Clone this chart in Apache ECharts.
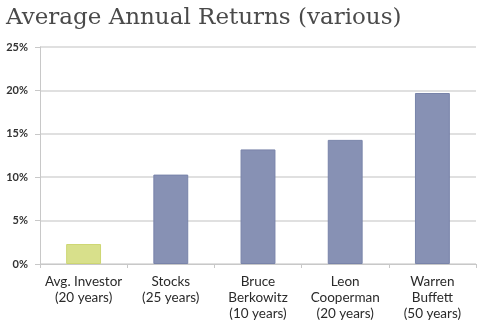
<!DOCTYPE html>
<html>
<head>
<meta charset="utf-8">
<script src="https://cdn.jsdelivr.net/npm/echarts@6/dist/echarts.min.js"></script>
<style>
  html, body { margin: 0; padding: 0; background: #fff; }
  #chart { width: 480px; height: 324px; }
</style>
</head>
<body>
<div id="chart"></div>
<script>
// Investor / manager categories along the x axis
const categories = [
  'Avg. Investor\n(20 years)',
  'Stocks\n(25 years)',
  'Bruce\nBerkowitz\n(10 years)',
  'Leon\nCooperman\n(20 years)',
  'Warren\nBuffett\n(50 years)'
];
// Average annual return, percent
const returns = [2.3, 10.3, 13.2, 14.3, 19.7];
// Percent ticks on the value axis
const yTicks = [0, 5, 10, 15, 20, 25];

const barColors = ['#d8e08b', '#8791b4', '#8791b4', '#8791b4', '#8791b4'];
const barBorders = ['#cdd672', '#7883a9', '#7883a9', '#7883a9', '#7883a9'];

const chart = echarts.init(document.getElementById('chart'), null, { renderer: 'canvas' });
chart.setOption({
  animation: false,
  backgroundColor: '#ffffff',
  title: {
    text: 'Average Annual Returns (various)',
    left: 1,
    top: 2,
    textStyle: {
      fontFamily: 'DejaVu Serif',
      fontWeight: 'normal',
      fontSize: 23,
      color: '#4a4a4a'
    }
  },
  grid: { left: 40, right: 4, top: 47, bottom: 60, containLabel: false, outerBoundsMode: 'none' },
  xAxis: {
    type: 'category',
    data: categories,
    axisLine: { lineStyle: { color: '#c8c8c8', width: 1 } },
    axisTick: { show: true, alignWithLabel: false, length: 4, lineStyle: { color: '#c8c8c8' } },
    axisLabel: {
      interval: 0,
      margin: 10,
      fontFamily: 'Lato',
      fontSize: 13.5,
      lineHeight: 16,
      color: '#2a2a2a'
    }
  },
  yAxis: {
    type: 'value',
    min: yTicks[0],
    max: yTicks[yTicks.length - 1],
    interval: yTicks[1] - yTicks[0],
    axisLine: { show: true, lineStyle: { color: '#c8c8c8', width: 1 } },
    axisTick: { show: true, length: 5, lineStyle: { color: '#c8c8c8' } },
    splitLine: { lineStyle: { color: '#d6d6d6', width: 1.5 } },
    axisLabel: {
      margin: 12,
      fontFamily: 'Lato',
      fontWeight: 'bold',
      fontSize: 11,
      color: '#333333',
      formatter: v => v + '%'
    }
  },
  series: [{
    type: 'bar',
    barWidth: '40%',
    data: returns.map((v, i) => ({
      value: v,
      itemStyle: { color: barColors[i], borderColor: barBorders[i], borderWidth: 1 }
    }))
  }]
});
</script>
</body>
</html>
